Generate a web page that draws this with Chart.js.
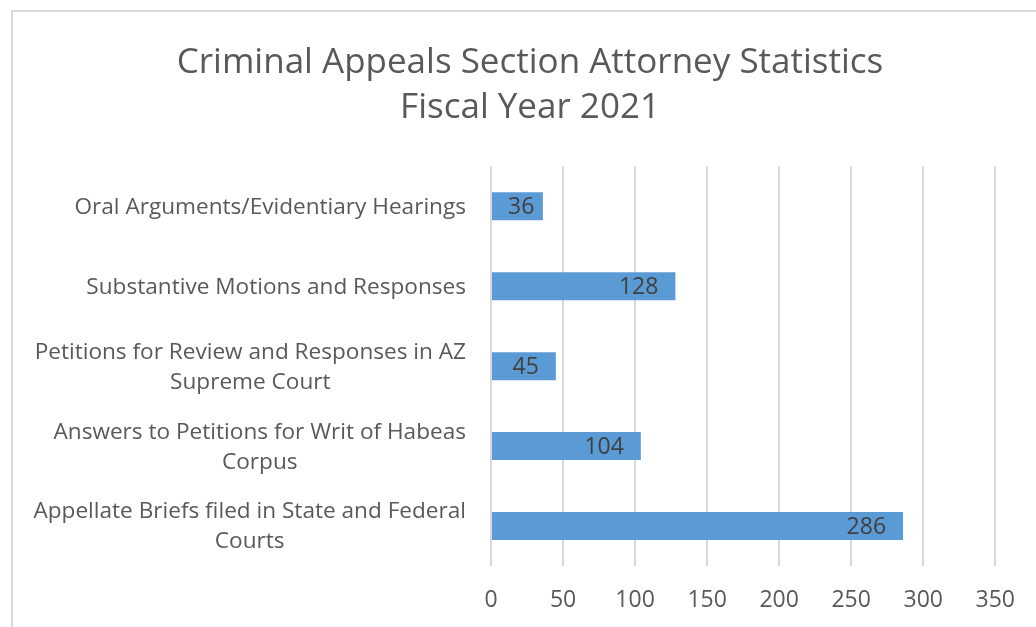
<!DOCTYPE html>
<html>
<head>
<meta charset="utf-8">
<title>Criminal Appeals Section Attorney Statistics</title>
<script src="https://cdn.jsdelivr.net/npm/chart.js@4"></script>
<style>
  html, body { margin: 0; padding: 0; background: #fff; }
</style>
</head>
<body>
<canvas id="statsChart" width="1036" height="627"></canvas>
<script>
// chart data, top to bottom as shown
const categories = [
  ["Oral Arguments/Evidentiary Hearings"],
  ["Substantive Motions and Responses"],
  ["Petitions for Review and Responses in AZ", "Supreme Court"],
  ["Answers to Petitions for Writ of Habeas", "Corpus"],
  ["Appellate Briefs filed in State and Federal", "Courts"]
];
const filingCounts = [36, 128, 45, 104, 286];
const xTicks = [0, 50, 100, 150, 200, 250, 300, 350];
const titleLines = ["Criminal Appeals Section Attorney Statistics", "Fiscal Year 2021"];

const FONT = "'Open Sans', Lato, sans-serif";

// light frame around the chart (cropped on the right and bottom)
const frame = {
  id: 'frame',
  beforeDraw(chart) {
    const ctx = chart.ctx;
    ctx.save();
    ctx.fillStyle = '#fff';
    ctx.fillRect(0, 0, chart.width, chart.height);
    ctx.strokeStyle = '#d9d9d9';
    ctx.lineWidth = 2;
    ctx.strokeRect(12, 11, chart.width + 20, chart.height + 20);
    ctx.restore();
  }
};

// category labels: each block centred on itself, block right-aligned to the axis
const categoryLabels = {
  id: 'categoryLabels',
  afterDraw(chart) {
    const y = chart.scales.y;
    const ctx = chart.ctx;
    ctx.save();
    ctx.font = '22.6px ' + FONT;
    ctx.fillStyle = '#595959';
    ctx.textAlign = 'center';
    ctx.textBaseline = 'middle';
    const right = chart.chartArea.left - 25;
    categories.forEach((lines, i) => {
      const cy = y.getPixelForValue(i) + 1;
      const w = Math.max(...lines.map(l => ctx.measureText(l).width));
      const cx = right - w / 2;
      lines.forEach((l, j) => {
        ctx.fillText(l, cx, cy + (j - (lines.length - 1) / 2) * 30);
      });
    });
    ctx.restore();
  }
};

// value labels inside the end of each bar
const valueLabels = {
  id: 'valueLabels',
  afterDatasetsDraw(chart) {
    const ctx = chart.ctx;
    const meta = chart.getDatasetMeta(0);
    ctx.save();
    ctx.font = '23px ' + FONT;
    ctx.fillStyle = '#404040';
    ctx.textAlign = 'right';
    ctx.textBaseline = 'middle';
    meta.data.forEach((bar, i) => {
      const txt = String(filingCounts[i]);
      const w = ctx.measureText(txt).width;
      const x = Math.max(bar.x - 17, bar.base + 16 + w);
      ctx.fillText(txt, x, bar.y + 1);
    });
    ctx.restore();
  }
};

const statsChart = new Chart(document.getElementById("statsChart"), {
  type: 'bar',
  data: {
    labels: categories,
    datasets: [{
      label: 'Count',
      data: filingCounts,
      backgroundColor: '#5b9bd5',
      borderWidth: 0,
      categoryPercentage: 1,
      barPercentage: 0.35
    }]
  },
  options: {
    indexAxis: 'y',
    responsive: false,
    animation: false,
    devicePixelRatio: 1,
    layout: {
      padding: { left: 63, right: 39, top: 0, bottom: 12 }
    },
    plugins: {
      legend: { display: false },
      tooltip: { enabled: false },
      title: {
        display: true,
        text: titleLines,
        color: '#595959',
        font: { family: FONT, size: 35, weight: 'normal', lineHeight: 1.29 },
        padding: { top: 40, bottom: 36 }
      }
    },
    scales: {
      x: {
        min: xTicks[0],
        max: xTicks[xTicks.length - 1],
        ticks: {
          stepSize: xTicks[1] - xTicks[0],
          color: '#595959',
          padding: 21,
          font: { family: FONT, size: 23 }
        },
        grid: { color: '#d9d9d9', lineWidth: 2, drawTicks: false },
        border: { display: false },
        afterFit(scale) { scale.height = 49; }
      },
      y: {
        ticks: { display: false },
        grid: { display: false },
        border: { display: false },
        afterFit(scale) { scale.width = 491 - 63; }
      }
    }
  },
  plugins: [frame, categoryLabels, valueLabels]
});
</script>
</body>
</html>
